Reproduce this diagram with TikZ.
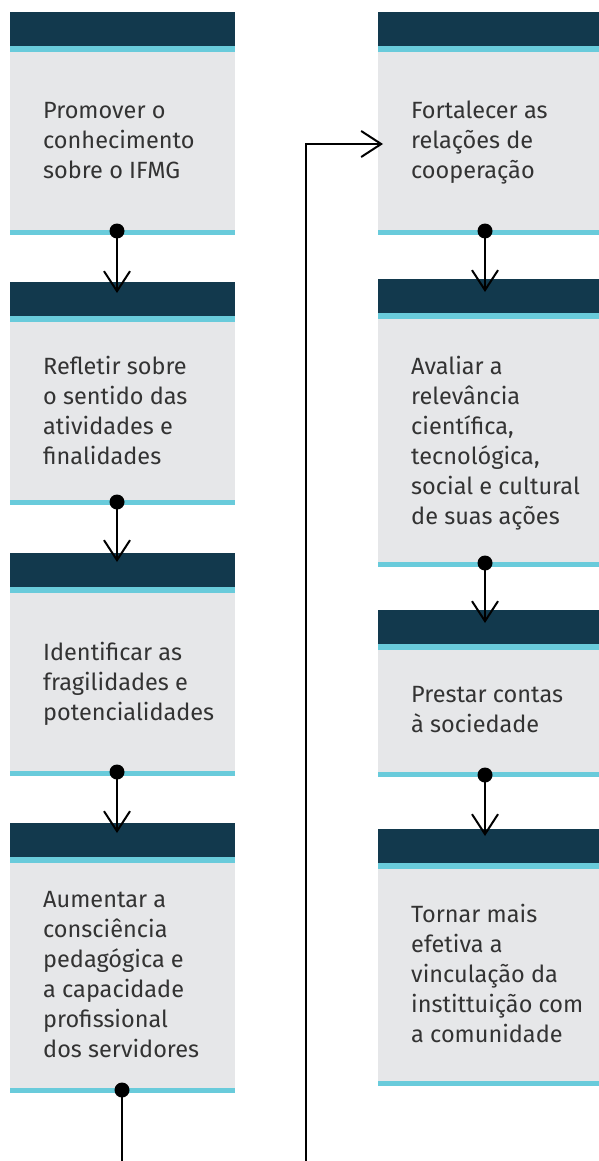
\documentclass[tikz,border=0pt]{standalone}
\usepackage{fontspec}
\setmainfont{Fira Sans}
\usetikzlibrary{arrows.meta,calc}
\definecolor{hdrcol}{HTML}{12394D}
\definecolor{cyancol}{HTML}{69CBDB}
\definecolor{greycol}{HTML}{E6E7E9}
\definecolor{txtcol}{HTML}{333333}
\newcommand\lns[1]{\vtop{\baselineskip=30pt\lineskiplimit=-50pt\lineskip=0pt\halign{##\hfil\cr#1\crcr}}}
\newcommand\mkbox[7]{%
  \node[boxbody, minimum width=#3pt, minimum height={#5pt-#4pt}, anchor=north west] (#1) at (#2,#4) {};
  \fill[hdrcol] (#1.north west) rectangle ++(#3,34);
  \fill[cyancol] (#2,#4+34) rectangle (#2+#3,#4+40);
  \fill[cyancol] (#2,#5-5) rectangle (#2+#3,#5);
  \node[txtnode, anchor=base west] (#1t) at (#2+33,#6) {\lns{#7}};
}
\tikzset{
  boxbody/.style={rectangle, fill=greycol, inner sep=0pt, outer sep=0pt},
  txtnode/.style={inner sep=0pt, text=txtcol, font=\fontsize{23.5}{30}\selectfont},
  conn/.style={line width=2pt, black, -{Straight Barb[length=20pt,width=26pt]}},
  dotmark/.style={fill=black}
}
\begin{document}
\begin{tikzpicture}[x=1pt,y=-1pt]
\useasboundingbox (0,0) rectangle (599,1161);
% left column
\mkbox{L1}{10}{225}{12}{235}{119}{Promover o\cr conhecimento\cr sobre o IFMG}
\mkbox{L2}{10}{225}{282}{505}{374}{Refletir sobre\cr o sentido das\cr atividades e\cr finalidades}
\mkbox{L3}{10}{225}{553}{776}{660}{Identificar as\cr fragilidades e\cr potencialidades}
\mkbox{L4}{10}{225}{823}{1093}{907}{Aumentar a\cr consci\^encia\cr pedag\'ogica e\cr a capacidade\cr profissional\cr dos servidores}
% right column
\mkbox{R1}{378}{221}{12}{235}{119}{Fortalecer as\cr rela\c{c}\~oes de\cr coopera\c{c}\~ao}
\mkbox{R2}{378}{221}{279}{567}{374}{Avaliar a\cr relev\^ancia\cr cient\'ifica,\cr tecnol\'ogica,\cr social e cultural\cr de suas a\c{c}\~oes}
\mkbox{R3}{378}{221}{610}{777}{702}{Prestar contas\cr \`a sociedade}
\mkbox{R4}{378}{221}{829}{1086}{922}{Tornar mais\cr efetiva a\cr vincula\c{c}\~ao da\cr instittui\c{c}\~ao com\cr a comunidade}
% dots
\coordinate (dL1) at (117,231);
\coordinate (dL2) at (117,502);
\coordinate (dL3) at (117,772);
\coordinate (dL4) at (122,1090);
\coordinate (dR1) at (485,231);
\coordinate (dR2) at (485,563);
\coordinate (dR3) at (485,775);
% connectors
\draw[conn] (dL1) -- ($(L2.north -| dL1)+(0,11)$);
\draw[conn] (dL2) -- ($(L3.north -| dL2)+(0,9)$);
\draw[conn] (dL3) -- ($(L4.north -| dL3)+(0,10)$);
\draw[conn] (dR1) -- ($(R2.north -| dR1)+(0,13)$);
\draw[conn] (dR2) -- ($(R3.north -| dR2)+(0,13)$);
\draw[conn] (dR3) -- ($(R4.north -| dR3)+(0,7)$);
\coordinate (turnA) at (122,1180);
\coordinate (turnB) at (306,1180);
\coordinate (turnC) at (306,144);
\draw[conn] (dL4) -- (turnA) -- (turnB) -- (turnC) -- ($(turnC -| R1.west)+(5,0)$);
\foreach \d in {dL1,dL2,dL3,dL4,dR1,dR2,dR3} \fill[dotmark] (\d) circle (7.5);
\end{tikzpicture}
\end{document}
